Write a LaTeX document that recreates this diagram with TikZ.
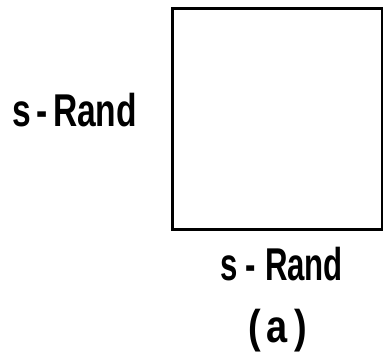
\documentclass[tikz,border=0pt]{standalone}
\usepackage{fontspec}
\setmainfont{Liberation Sans}
\usepackage{graphicx}
\begin{document}
\begin{tikzpicture}[x=1pt,y=-1pt,
  lbl/.style={anchor=base, inner sep=0pt, font=\fontsize{46}{50}\selectfont\bfseries},
  boxsq/.style={draw, line width=2.5pt, inner sep=0pt, anchor=north west,
                minimum width=210pt, minimum height=221pt}]
\useasboundingbox (0,0) rectangle (383,357);
\node[boxsq] (sq) at (171,7) {};
\node[lbl] (lefttxt) at (74.5,126) {\resizebox{125pt}{\height}{s\,-\,Rand}};
\node[lbl] (bottxt) at (281.5,280) {\resizebox{123pt}{\height}{s\;-\;Rand}};
\node[lbl] (cap) at (277.5,342) {\resizebox{59pt}{\height}{(\,a\,)}};
\end{tikzpicture}
\end{document}
